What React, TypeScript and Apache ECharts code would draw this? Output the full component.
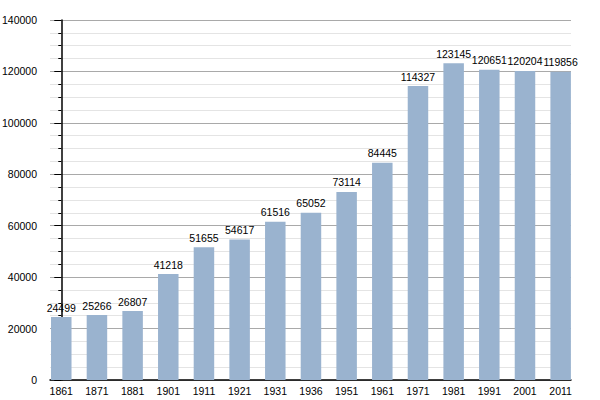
import * as echarts from "echarts";
import { useEffect, useRef } from "react";

const years = [
  "1861", "1871", "1881", "1901", "1911", "1921", "1931", "1936",
  "1951", "1961", "1971", "1981", "1991", "2001", "2011",
];
const population = [
  24499, 25266, 26807, 41218, 51655, 54617, 61516, 65052,
  73114, 84445, 114327, 123145, 120651, 120204, 119856,
];
const yTicks = [0, 20000, 40000, 60000, 80000, 100000, 120000, 140000];

const FONT = "'Liberation Sans', Arial, Helvetica, sans-serif";

export default function App(): React.ReactElement {
  const ref = useRef<HTMLDivElement | null>(null);

  useEffect(() => {
    document.body.style.margin = "0";
    const el = ref.current;
    if (el === null) return;
    const chart = echarts.init(el, null, { renderer: "svg" });

    chart.setOption({
      animation: false,
      backgroundColor: "#ffffff",
      textStyle: { fontFamily: FONT },
      grid: { left: 50, right: 29, top: 20, bottom: 20, outerBoundsMode: "none" },
      xAxis: {
        type: "value",
        min: -0.316,
        max: 14.29,
        axisLine: { show: true, lineStyle: { color: "#000000", width: 1.5 } },
        axisTick: { show: false },
        splitLine: { show: false },
        axisLabel: {
          customValues: years.map((_, i) => i),
          formatter: (v: number) => years[Math.round(v)] ?? "",
          color: "#000000",
          fontFamily: FONT,
          fontSize: 10.5,
          margin: 5,
        },
      },
      yAxis: {
        type: "value",
        min: yTicks[0],
        max: yTicks[yTicks.length - 1],
        interval: 20000,
        axisLine: { show: true, lineStyle: { color: "#000000", width: 1.5 } },
        axisTick: { show: true, length: 7, lineStyle: { color: "#000000" } },
        minorTick: { show: true, splitNumber: 4, length: 3, lineStyle: { color: "#000000" } },
        splitLine: { show: true, lineStyle: { color: "#a9a9a9", width: 1 } },
        minorSplitLine: { show: true, lineStyle: { color: "#e4e4e4", width: 1 } },
        axisLabel: {
          formatter: (v: number) => String(v),
          color: "#000000",
          fontFamily: FONT,
          fontSize: 10.5,
          margin: 13,
        },
      },
      series: [
        {
          type: "bar",
          data: population.map((v, i) => [i, v]),
          barWidth: 20.5,
          itemStyle: { color: "#9ab3cf" },
          label: {
            show: true,
            position: "top",
            distance: 4,
            color: "#000000",
            fontFamily: FONT,
            fontSize: 10.5,
          },
        },
      ],
    });

    return () => {
      chart.dispose();
    };
  }, []);

  return <div ref={ref} style={{ width: 600, height: 400 }} />;
}
